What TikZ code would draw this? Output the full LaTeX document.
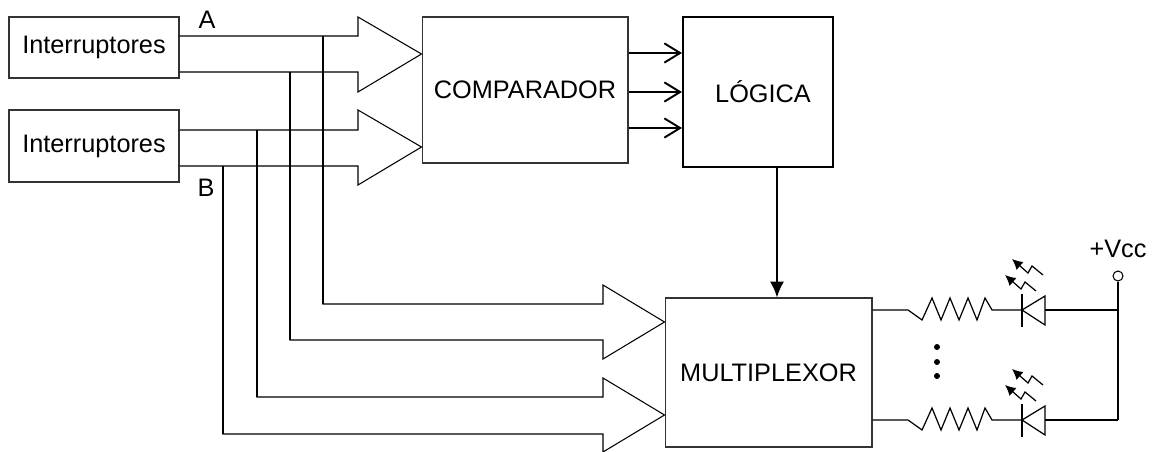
\documentclass[tikz,border=0pt]{standalone}
\usepackage{fontspec}
\setmainfont{Liberation Sans}
\usetikzlibrary{arrows.meta}

\tikzset{
  blockbox/.style={draw=black!80, line width=0.6pt, inner sep=0pt, font=\fontsize{14.4}{17}\selectfont},
  label/.style={inner sep=0pt, font=\fontsize{14.4}{17}\selectfont},
  wire/.style={line width=0.9pt},
  bus/.style={line width=0.6pt, line join=miter},
}

\begin{document}
\begin{tikzpicture}[x=0.02cm, y=-0.02cm]
\useasboundingbox (0,0) rectangle (1155,452);

% bloques
\node[blockbox, minimum width=3.4cm, minimum height=1.22cm] (intA) at (94,47.5) {Interruptores};
\node[blockbox, minimum width=3.4cm, minimum height=1.44cm] (intB) at (94,146) {Interruptores};
\node[blockbox, minimum width=4.12cm, minimum height=2.92cm] (comp) at (525,90) {COMPARADOR};
\node[blockbox, draw=black, line width=1.2pt, minimum width=3cm, minimum height=3cm] (logic) at (758,92) {\hspace*{0.2cm}LÓGICA};
\node[blockbox, minimum width=4.14cm, minimum height=2.98cm] (mux) at (768.5,372.5) {MULTIPLEXOR};

\node[label] (labA) at (207,20) {A};
\node[label] (labB) at (206,188) {B};
\node[label] (labVcc) at (1118,249) {+Vcc};
\node[draw, circle, inner sep=0pt, minimum size=0.2cm, line width=0.6pt] (vccpin) at (1118,276) {};

% buses hacia el comparador
\draw[bus] (intA.east |- 0,36) -- (358,36) -- (358,17) -- (comp.west |- 0,54) -- (358,92) -- (358,72) -- (intA.east |- 0,72);
\draw[bus] (intB.east |- 0,130) -- (358,130) -- (358,110) -- (comp.west |- 0,147) -- (358,185) -- (358,166) -- (intB.east |- 0,166);

% buses hacia el multiplexor
\draw[bus] (323,36) |- (603,304) -- (603,285) -- (mux.west |- 0,322) -- (603,359) -- (603,340) -| (290,72);
\draw[bus] (257,130) |- (603,397) -- (603,378) -- (mux.west |- 0,415) -- (603,452) -- (603,434) -| (223,166);
\draw[wire] (323,36) -- (323,304);
\draw[wire] (290,72) -- (290,340);
\draw[wire] (257,130) -- (257,397);
\draw[wire] (223,166) -- (223,434);

% comparador -> logica -> multiplexor
\foreach \y in {53,92,128}
  \draw[line width=1.1pt, -{Straight Barb[length=9pt,width=11pt]}] (comp.east |- 0,\y) -- (logic.west |- 0,\y);
\draw[line width=1.1pt, -{Latex[length=9pt,width=8pt]}] ([xshift=0.38cm]logic.south) -- ([xshift=0.17cm]mux.north);

% salidas con LED
\foreach \y in {310,420} {
  \draw[line width=0.7pt] (mux.east |- 0,\y) -- (908,\y) -- (922,\y+10) -- (932,\y-12) -- (941,\y+10) -- (950,\y-12)
    -- (959,\y+10) -- (968,\y-12) -- (977,\y+10) -- (985,\y-12) -- (992,\y) -- (1022,\y);
  \draw[line width=0.7pt] (1022,\y-16) -- (1022,\y+17);
  \draw[line width=0.7pt] (1022,\y) -- (1045,\y-14) -- (1045,\y+15) -- cycle;
  \draw[line width=0.7pt] (1045,\y) -- (1118,\y);
  \draw[line width=0.7pt, -{Latex[length=6pt,width=6pt]}] (1043,\y-35) -- (1032,\y-44) -- (1028,\y-37) -- (1012,\y-51);
  \draw[line width=0.7pt, -{Latex[length=6pt,width=6pt]}] (1036,\y-19) -- (1025,\y-28) -- (1021,\y-21) -- (1005,\y-35);
}
\draw[line width=0.7pt] (vccpin.south) -- (vccpin.south |- 0,420);
\foreach \y in {347,362,376}
  \fill (937,\y) circle (0.06cm);

\end{tikzpicture}
\end{document}
